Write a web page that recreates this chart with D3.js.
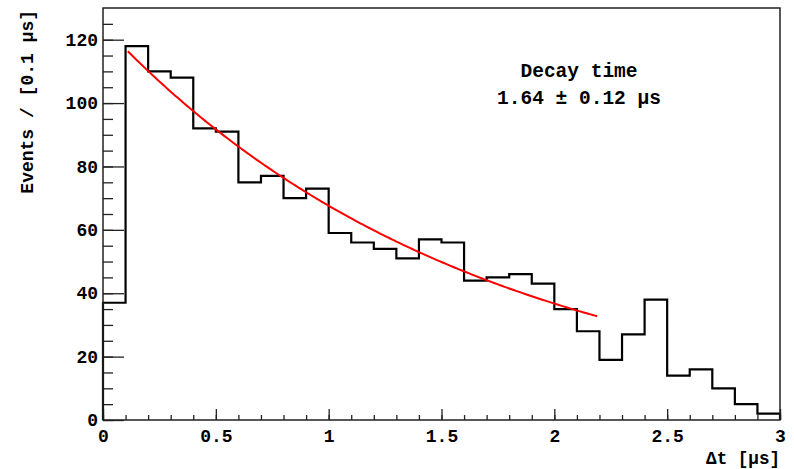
<!DOCTYPE html>
<html>
<head>
<meta charset="utf-8">
<script src="https://cdn.jsdelivr.net/npm/d3@7"></script>
<style>
  body { margin: 0; background: #fff; }
  svg { display: block; }
  text { font-family: "Liberation Mono", "DejaVu Sans Mono", monospace; font-weight: bold; }
</style>
</head>
<body>
<div id="chart"></div>
<script>
// bin edges: 0 .. 3 us in steps of 0.1
const binEdges = d3.range(0, 31).map(i => i / 10)
const counts = [37, 118, 110, 108, 92, 91, 75, 77, 70, 73,
                59, 56, 54, 51, 57, 56, 44, 45, 46, 43,
                35, 28, 19, 27, 38, 14, 16, 10, 5, 2]
const xTicks = [0, 0.5, 1, 1.5, 2, 2.5, 3]
const yTicks = [0, 20, 40, 60, 80, 100, 120]
// exponential fit shown in the figure
const fitAmp = 124.4
const fitTau = 1.64
const fitRange = [0.11, 2.19]
const fitLabel = ['Decay time', '1.64 \u00b1 0.12 \u03bcs']

const W = 794, H = 469
const m = { left: 103, right: 14, top: 8, bottom: 49 }

const svg = d3.select('#chart').append('svg')
    .attr('width', W)
    .attr('height', H)

const x = d3.scaleLinear().domain([0, 3]).range([m.left, W - m.right])
const y = d3.scaleLinear().domain([0, 130]).range([H - m.bottom, m.top])

// minor ticks
svg.append('g')
    .attr('transform', `translate(0,${y(0)})`)
    .call(d3.axisTop(x).tickValues(binEdges).tickSize(5).tickFormat(''))
    .call(g => g.select('.domain').remove())
svg.append('g')
    .attr('transform', `translate(${x(0)},0)`)
    .call(d3.axisRight(y).tickValues(d3.range(0, 130, 5)).tickSize(10).tickFormat(''))
    .call(g => g.select('.domain').remove())

// major ticks + labels
const xAxis = svg.append('g')
    .attr('transform', `translate(0,${y(0)})`)
    .call(d3.axisTop(x).tickValues(xTicks).tickSize(11).tickFormat(d3.format('')))
    .call(g => g.select('.domain').remove())
xAxis.selectAll('text')
    .attr('y', 16)
    .attr('dy', '0.35em')
    .attr('font-size', '18px')
    .attr('fill', '#000')

const yAxis = svg.append('g')
    .attr('transform', `translate(${x(0)},0)`)
    .call(d3.axisRight(y).tickValues(yTicks).tickSize(21).tickFormat(d3.format('d')))
    .call(g => g.select('.domain').remove())
yAxis.selectAll('text')
    .attr('x', -5)
    .attr('text-anchor', 'end')
    .attr('font-size', '18px')
    .attr('fill', '#000')

svg.selectAll('.tick line').attr('stroke', '#222').attr('stroke-width', 1.3)

// histogram outline
const steps = [[binEdges[0], 0]]
counts.forEach((c, i) => {
    steps.push([binEdges[i], c])
    steps.push([binEdges[i + 1], c])
})
steps.push([binEdges[binEdges.length - 1], 0])
svg.append('path')
    .attr('d', d3.line().x(d => x(d[0])).y(d => y(d[1]))(steps))
    .attr('fill', 'none')
    .attr('stroke', '#000')
    .attr('stroke-width', 2.2)

// fit curve
const tFit = d3.range(fitRange[0], fitRange[1] + 1e-9, 0.01)
svg.append('path')
    .attr('d', d3.line().x(t => x(t)).y(t => y(fitAmp * Math.exp(-t / fitTau)))(tFit))
    .attr('fill', 'none')
    .attr('stroke', '#f00')
    .attr('stroke-width', 2)

// frame
svg.append('rect')
    .attr('x', x(0))
    .attr('y', y(130))
    .attr('width', x(3) - x(0))
    .attr('height', y(0) - y(130))
    .attr('fill', 'none')
    .attr('stroke', '#222')
    .attr('stroke-width', 1.5)

// axis titles
svg.append('text')
    .attr('x', x(3))
    .attr('y', 464)
    .attr('text-anchor', 'end')
    .attr('font-size', '17.6px')
    .text('\u0394t [\u03bcs]')

svg.append('text')
    .attr('transform', 'translate(33,10) rotate(-90)')
    .attr('text-anchor', 'end')
    .attr('font-size', '18px')
    .text('Events / [0.1 \u03bcs]')

// fit label
svg.selectAll('.fitlabel')
    .data(fitLabel)
    .join('text')
    .attr('x', 579)
    .attr('y', (d, i) => 77 + i * 27)
    .attr('text-anchor', 'middle')
    .attr('font-size', '19.5px')
    .text(d => d)
</script>
</body>
</html>
